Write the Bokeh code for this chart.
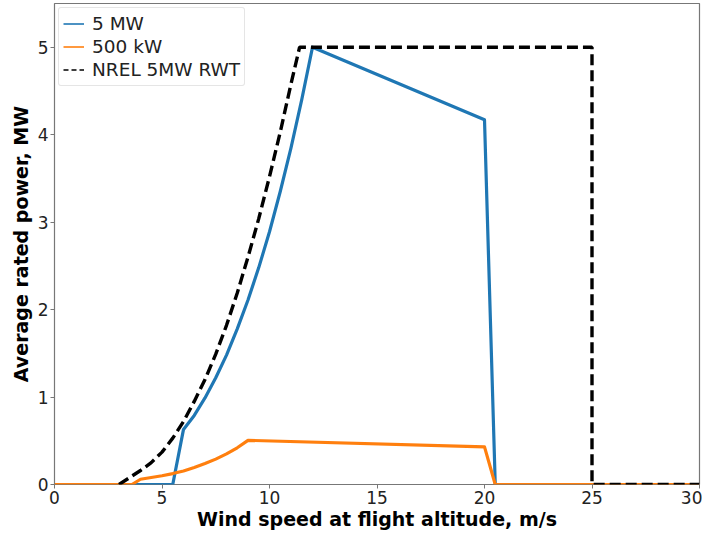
from bokeh.plotting import figure
from bokeh.models import Range1d, FixedTicker, Legend, LegendItem, ColumnDataSource
from bokeh.embed import file_html
from bokeh.resources import INLINE

# ---- data ----
wind_5mw = [0, 5.5, 6.0, 6.5, 7, 7.5, 8, 8.5, 9, 9.5, 10, 10.5, 11, 11.5, 12, 20, 20.5, 30]
power_5mw = [0, 0, 0.63, 0.79, 0.99, 1.22, 1.48, 1.78, 2.11, 2.48, 2.89, 3.35, 3.85, 4.40, 5.0,
             4.17, 0, 0]

wind_500kw = [0, 3.6, 4.0, 4.5, 5.0, 5.5, 6.0, 6.5, 7.0, 7.5, 8.0, 8.5, 9.0, 20.0, 20.5, 30]
power_500kw = [0, 0, 0.06, 0.08, 0.10, 0.125, 0.155, 0.195, 0.24, 0.29, 0.35, 0.42, 0.505,
               0.43, 0, 0]

wind_nrel = [3, 3.5, 4, 4.5, 5, 5.5, 6, 6.5, 7, 7.5, 8, 8.5, 9, 9.5, 10, 10.5, 11, 11.4,
             25, 25, 30]
power_nrel = [0.0, 0.08, 0.16, 0.25, 0.37, 0.53, 0.72, 0.95, 1.20, 1.49, 1.82, 2.19, 2.60,
              3.04, 3.52, 4.03, 4.58, 5.0, 5.0, 0, 0]

x_ticks = [0, 5, 10, 15, 20, 25, 30]
y_ticks = [0, 1, 2, 3, 4, 5]
labels = ["5 MW", "500 kW", "NREL 5MW RWT"]
colors = ["#1f77b4", "#ff7f0e", "black"]

FONT = "DejaVu Sans"

p = figure(frame_width=645, frame_height=481, output_backend="svg", toolbar_location=None,
           x_range=Range1d(0, 30), y_range=Range1d(0, 5.5),
           min_border_left=54, min_border_right=3, min_border_top=3, min_border_bottom=44)
p.background_fill_color = "white"
p.border_fill_color = "white"
p.outline_line_color = "#777777"
p.outline_line_width = 1.2
p.xgrid.visible = False
p.ygrid.visible = False

src5 = ColumnDataSource(dict(x=wind_5mw, y=power_5mw))
src500 = ColumnDataSource(dict(x=wind_500kw, y=power_500kw))
srcn = ColumnDataSource(dict(x=wind_nrel, y=power_nrel))

p.line("x", "y", source=src5, line_color=colors[0], line_width=3.2, line_join="round")
p.line("x", "y", source=src500, line_color=colors[1], line_width=3.2, line_join="round")
p.line("x", "y", source=srcn, line_color=colors[2], line_width=3.4, line_dash="11 5")

# thin legend handles (kept outside the visible range)
def handle(**kw):
    return p.line("x", "y", source=ColumnDataSource(dict(x=[-10, -9], y=[-1, -1])), **kw)

h1 = handle(line_color=colors[0], line_width=1.6)
h2 = handle(line_color=colors[1], line_width=1.6)
h3 = handle(line_color=colors[2], line_width=1.6, line_dash="5 3")

legend = Legend(items=[LegendItem(label=labels[0], renderers=[h1]),
                       LegendItem(label=labels[1], renderers=[h2]),
                       LegendItem(label=labels[2], renderers=[h3])],
                location="top_left")
legend.margin = 4
legend.padding = 4
legend.spacing = 0
legend.glyph_width = 21
legend.glyph_height = 23
legend.label_height = 23
legend.label_standoff = 8
legend.label_text_font = FONT
legend.label_text_font_size = "18.5px"
legend.label_text_color = "#222222"
legend.border_line_color = "#cccccc"
legend.border_line_width = 1
legend.border_radius = 3
legend.background_fill_alpha = 0.8
p.add_layout(legend)

for ax in (p.xaxis[0], p.yaxis[0]):
    ax.axis_line_color = None
    ax.major_tick_line_color = "#777777"
    ax.major_tick_out = 4
    ax.major_tick_in = 0
    ax.minor_tick_line_color = None
    ax.major_label_text_font = FONT
    ax.major_label_text_font_size = "17px"
    ax.major_label_text_color = "#222222"
    ax.axis_label_text_font = FONT
    ax.axis_label_text_font_size = "19px"
    ax.axis_label_text_font_style = "bold"
    ax.axis_label_text_color = "black"

p.xaxis[0].ticker = FixedTicker(ticks=x_ticks)
p.yaxis[0].ticker = FixedTicker(ticks=y_ticks)
p.xaxis[0].axis_label = "Wind speed at flight altitude, m/s"
p.yaxis[0].axis_label = "Average rated power, MW"
p.xaxis[0].major_label_standoff = 2
p.yaxis[0].major_label_standoff = 2
p.xaxis[0].axis_label_standoff = 1
p.yaxis[0].axis_label_standoff = 3

open("out.html", "w").write(file_html(p, INLINE))
